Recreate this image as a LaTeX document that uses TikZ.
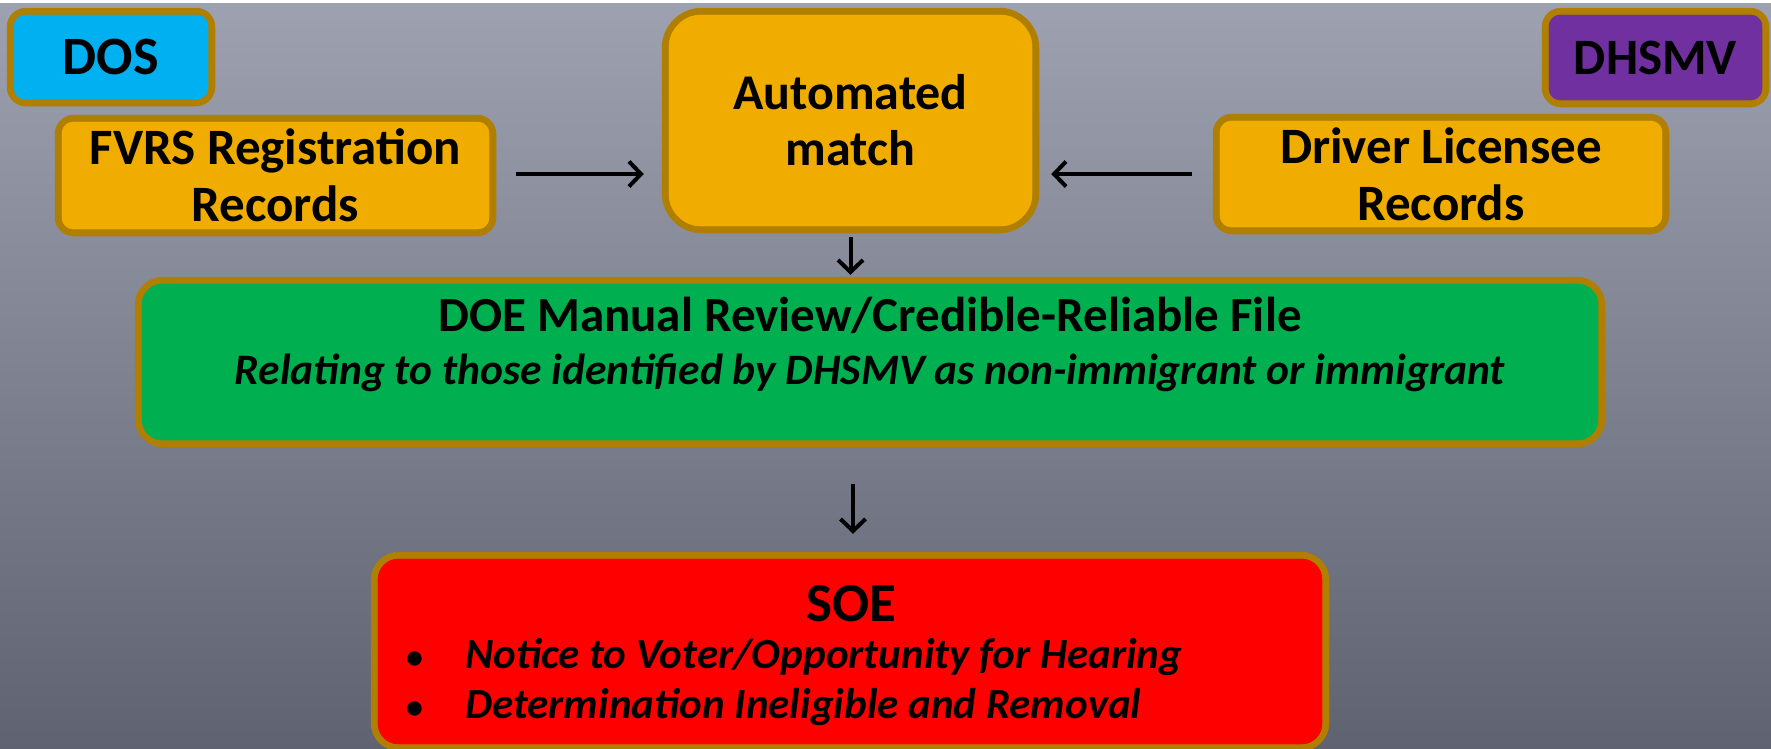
\documentclass[tikz,border=0pt]{standalone}
\usepackage{fontspec}
\setmainfont{Carlito}
\usetikzlibrary{arrows.meta}
\definecolor{gold}{HTML}{B07E00}
\definecolor{amber}{HTML}{F0AD00}
\definecolor{cyanbox}{HTML}{00B0F0}
\definecolor{purplebox}{HTML}{7030A0}
\definecolor{greenbox}{HTML}{00B050}
\definecolor{redbox}{HTML}{FF0000}
\definecolor{bgtop}{HTML}{9EA1B0}
\definecolor{bgbot}{HTML}{5F6271}
\newcommand\innerrim[3]{\draw[gold,line width=1.5pt,rounded corners=#2] ([shift={(#3,#3)}]#1.north west) rectangle ([shift={(-#3,-#3)}]#1.south east);}
\tikzset{
  box/.style={draw=gold, line width=6.5pt, inner sep=0pt, align=center, text=black},
  arr/.style={draw=black, line width=4pt, -{Straight Barb[length=12pt,width=25pt,line width=4pt]}},
  big/.style={font=\fontsize{51}{57}\selectfont\bfseries},
}
\begin{document}
\begin{tikzpicture}[x=1pt,y=-1pt]
\useasboundingbox (0,0) rectangle (1771,748);
\clip (0,0) rectangle (1771,748);
\shade[top color=bgtop, bottom color=bgbot] (0,0) rectangle (1771,748);
\fill[white] (0,0) rectangle (1771,2.5);

\node[box, font=\fontsize{54}{60}\selectfont\bfseries, fill=cyanbox, minimum width=202pt, minimum height=92pt, rounded corners=16pt] (dos) at (111,57) {DOS};
\innerrim{dos}{11pt}{6.2}
\node[box, big, fill=purplebox, minimum width=221pt, minimum height=93pt, rounded corners=16pt] (dhsmv) at (1655.5,57.5) {DHSMV};
\innerrim{dhsmv}{11pt}{6.2}
\node[box, big, fill=amber, minimum width=435pt, minimum height=115pt, rounded corners=16pt] (fvrs) at (275.5,175.5) {FVRS Registration\\Records};
\innerrim{fvrs}{11pt}{6.2}
\node[box, big, fill=amber, minimum width=450pt, minimum height=114pt, rounded corners=16pt] (drv) at (1441,174) {Driver Licensee\\Records};
\innerrim{drv}{11pt}{6.2}
\node[box, big, font=\fontsize{50}{56}\selectfont\bfseries, fill=amber, minimum width=371pt, minimum height=219pt, rounded corners=37pt] (auto) at (850.5,120.5) {Automated\\match};
\innerrim{auto}{31pt}{6.2}
\node[box, fill=greenbox, minimum width=1464pt, minimum height=164pt, rounded corners=25pt] (doe) at (870,362) {};
\innerrim{doe}{20pt}{6.2}
\node[box, fill=redbox, minimum width=952pt, minimum height=193pt, rounded corners=25pt] (soe) at (850,651.5) {};
\innerrim{soe}{20pt}{6.2}

\node[align=center, inner sep=0pt, font=\fontsize{49}{53}\selectfont\bfseries] (doet) at (870,344) {DOE Manual Review/Credible-Reliable File\\[0pt]\fontsize{43.5}{53}\selectfont\bfseries\itshape Relating to those identified by DHSMV as non-immigrant or immigrant};
\node[font=\fontsize{55}{60}\selectfont\bfseries, inner sep=0pt] (soet) at (851,604) {SOE};
\node[font=\fontsize{43}{50}\selectfont\bfseries\itshape, align=left, anchor=west, inner sep=0pt] (soel) at (406,682) {\makebox[59pt][l]{\upshape\fontsize{34}{50}\selectfont\textbullet}Notice to Voter/Opportunity for Hearing\\\makebox[59pt][l]{\upshape\fontsize{34}{50}\selectfont\textbullet}Determination Ineligible and Removal};

\draw[arr, shorten <=20pt, shorten >=18pt] (fvrs.east |- 0,174) -- (auto.west |- 0,174);
\draw[arr, shorten <=21pt, shorten >=12pt] (drv.west |- 0,174) -- (auto.east |- 0,174);
\draw[arr, shorten <=4pt, shorten >=2pt] (auto.south) -- (auto.south |- doe.north);
\draw[arr, shorten <=37pt, shorten >=18pt] ([xshift=3pt]soe.north |- doe.south) -- ([xshift=3pt]soe.north);
\end{tikzpicture}
\end{document}
